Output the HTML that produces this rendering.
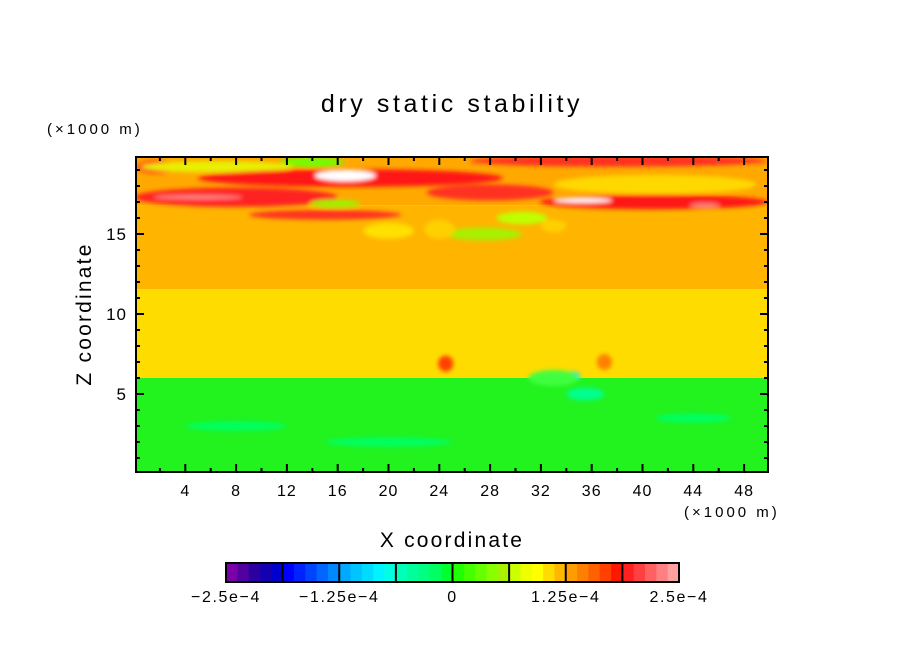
<!DOCTYPE html>
<html><head><meta charset="utf-8"><style>
body{margin:0;background:#fff;width:904px;height:654px;overflow:hidden;font-family:"Liberation Sans","DejaVu Sans",sans-serif}
svg text{font-family:"Liberation Sans","DejaVu Sans",sans-serif}
</style></head><body>
<svg id="chart" width="904" height="654" viewBox="0 0 904 654" xmlns="http://www.w3.org/2000/svg">
<defs>
<filter id="blur" x="-20%" y="-50%" width="140%" height="200%"><feGaussianBlur stdDeviation="2"/></filter>
<clipPath id="plotclip"><rect x="136" y="157" width="632" height="315"/></clipPath>
</defs>
<text x="452" y="112" font-size="25" letter-spacing="3.6" text-anchor="middle">dry static stability</text>
<text x="47" y="134" font-size="15" letter-spacing="3">(×1000 m)</text>
<text x="684" y="517" font-size="15" letter-spacing="3">(×1000 m)</text>
<text transform="translate(91,314) rotate(-90)" font-size="21" letter-spacing="2.2" text-anchor="middle">Z coordinate</text>
<text x="452" y="547" font-size="21" letter-spacing="2.2" text-anchor="middle">X coordinate</text>
<g id="field" clip-path="url(#plotclip)"></g>
<g id="features" clip-path="url(#plotclip)" filter="url(#blur)"></g>
<g id="axes"></g>
<g id="colorbar"></g>
</svg>
<script>
const NS="http://www.w3.org/2000/svg";
// layer bands: [zBottom, zTop, color]
const bandBottoms=[0,6.0,11.55,16.8];
const bandTops=[6.0,11.55,16.8,19.8];
const bandColors=["#22f21e","#ffdc00","#ffb400","#ffa800"];
// features: x center, z center, x radius, z radius, color (units: km)
const featX=[38.1,1.7,6.5,14,17,16.6,8,5,15.8,15,28,40.9,35.3,41,44.9,27.5,30.5,20,24,33,24.5,34.5,37,33,35.5,8,20,44];
const featZ=[19.56,19.2,19.2,19.5,18.5,18.65,17.3,17.3,16.9,16.2,17.6,17.0,17.1,18.1,16.8,15.0,16.0,15.2,15.3,15.5,6.9,6.1,7.0,6.0,5.0,3.0,2.0,3.5];
const featRX=[11.7,1.5,6,2.5,12,2.4,8,3.5,2,6,5,9,2.3,8,1.2,3,2,2,1.2,1,0.6,0.6,0.6,2,1.5,4,5,3];
const featRZ=[0.35,0.4,0.35,0.3,0.55,0.35,0.6,0.15,0.25,0.3,0.5,0.45,0.15,0.6,0.15,0.4,0.4,0.5,0.6,0.4,0.5,0.3,0.5,0.5,0.4,0.3,0.3,0.3];
const featC=["#ff3020","#ff2020","#e8f000","#70ff00","#ff1818","#ffffff","#ff2020","#ff8080","#a0f000","#ff3020","#ff3020","#ff1818","#ffffff","#ffd800","#ff8080","#a8f000","#c0ff00","#ffe000","#ffd000","#ffd000","#ff4000","#00e0ff","#ff8000","#40ff40","#00ff90","#00ff60","#00ff60","#00ff60"];
const xTicks=[4,8,12,16,20,24,28,32,36,40,44,48];
const yTicks=[5,10,15];
const cbLabels=["-2.5e-4","-1.25e-4","0","1.25e-4","2.5e-4"];
const cbColors=["#7a00a8","#5200a0","#2c00a0","#1400b0","#0000cc","#0000ff","#0022ff","#0044ff","#0066ff","#0088ff","#00aaff","#00c4ff","#00dcff","#00f4ff","#00ffe0","#00ffb8","#00ff9c","#00ff80","#00ff60","#00ff30","#20ff00","#44ff00","#66ff00","#88ff00","#a8f000","#ccff00","#eeff00","#ffff00","#ffdc00","#ffb800","#ff9c00","#ff8000","#ff6000","#ff4000","#ff1800","#ff2020","#ff4040","#ff6060","#ff8080","#ffa0a0"];
const X=v=>134.5+v*12.7, Z=v=>474-v*16;
const mk=(t,a,p)=>{const e=document.createElementNS(NS,t);for(const k in a)e.setAttribute(k,a[k]);p.appendChild(e);return e;};
const field=document.getElementById('field');
for(let i=0;i<bandBottoms.length;i++){
  const r=mk('rect',{x:X(0),y:Z(bandTops[i]),width:X(50)-X(0),height:Z(bandBottoms[i])-Z(bandTops[i]),fill:bandColors[i]},field);
  
  
}
const feat=document.getElementById('features');
for(let i=0;i<featX.length;i++){
  const e=mk('ellipse',{cx:X(featX[i]),cy:Z(featZ[i]),rx:featRX[i]*12.7,ry:featRZ[i]*16,fill:featC[i]},feat);
  
  
}
const ax=document.getElementById('axes');
const fr=mk('rect',{x:136,y:157,width:632,height:315,fill:"none",stroke:"#000","stroke-width":2},ax);


for(let v=2;v<50;v+=2){const L=v%4==0?8:4;
  mk('line',{x1:X(v),x2:X(v),y1:472,y2:472-L,stroke:"#000","stroke-width":2},ax);
  mk('line',{x1:X(v),x2:X(v),y1:157,y2:157+L,stroke:"#000","stroke-width":2},ax);}
for(let v=1;v<20;v++){const L=v%5==0?8:4;
  mk('line',{x1:136,x2:136+L,y1:Z(v),y2:Z(v),stroke:"#000","stroke-width":2},ax);
  mk('line',{x1:768,x2:768-L,y1:Z(v),y2:Z(v),stroke:"#000","stroke-width":2},ax);}
xTicks.forEach(v=>{const t=mk('text',{x:X(v),y:496,"font-size":16,"letter-spacing":1,"text-anchor":"middle"},ax);t.textContent=v;
  
  });
yTicks.forEach(v=>{const t=mk('text',{x:127,y:Z(v)+6,"font-size":17,"letter-spacing":1,"text-anchor":"end"},ax);t.textContent=v;
  
  });
const cb=document.getElementById('colorbar');
const cx0=226,cx1=679,cy=563,ch=19,w=(cx1-cx0)/cbColors.length;
cbColors.forEach((c,i)=>{const r=mk('rect',{x:cx0+i*w,y:cy,width:w+0.5,height:ch,fill:c},cb);
  
  });
for(let i=0;i<=8;i++)mk('line',{x1:cx0+i*w*5,x2:cx0+i*w*5,y1:cy,y2:cy+ch,stroke:"#000","stroke-width":2},cb);
mk('rect',{x:cx0,y:cy,width:cx1-cx0,height:ch,fill:"none",stroke:"#000","stroke-width":2},cb);
cbLabels.forEach((s,i)=>{const t=mk('text',{x:cx0+i*(cx1-cx0)/4,y:602,"font-size":16,"letter-spacing":1.6,"text-anchor":"middle"},cb);t.textContent=s.replace(/-/g,'−');
  
  });
</script>
</body></html>
